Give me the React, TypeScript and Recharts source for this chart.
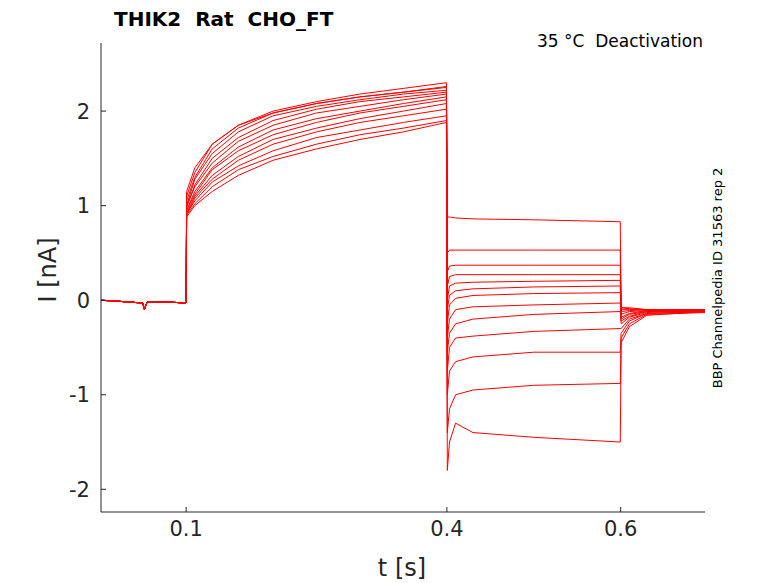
import React from "react";
import { LineChart, Line, XAxis, YAxis } from "recharts";

const baseTimes = [0, 0.02, 0.05, 0.052, 0.055, 0.08, 0.0995, 0.1];
const baseVals = [0.0, -0.01, -0.03, -0.1, -0.02, -0.02, -0.03, -0.02];
const actTimes = [0.1005, 0.11, 0.13, 0.16, 0.2, 0.25, 0.3, 0.35, 0.3995];
const deactTimes = [0.4005, 0.403, 0.41, 0.43, 0.5, 0.5995];
const tailTimes = [0.6005, 0.61, 0.63, 0.7];

const act = [
  [1.1, 1.35, 1.65, 1.85, 2.0, 2.1, 2.18, 2.24, 2.3],
  [1.05, 1.3, 1.6, 1.82, 1.98, 2.08, 2.15, 2.2, 2.26],
  [1.15, 1.4, 1.65, 1.85, 1.98, 2.08, 2.15, 2.2, 2.25],
  [1.0, 1.28, 1.55, 1.78, 1.95, 2.05, 2.12, 2.18, 2.22],
  [0.98, 1.22, 1.5, 1.72, 1.9, 2.02, 2.1, 2.15, 2.2],
  [1.0, 1.2, 1.45, 1.68, 1.85, 1.98, 2.05, 2.12, 2.18],
  [0.95, 1.15, 1.4, 1.62, 1.8, 1.92, 2.0, 2.08, 2.15],
  [0.95, 1.12, 1.38, 1.58, 1.75, 1.88, 1.98, 2.05, 2.12],
  [0.92, 1.1, 1.32, 1.52, 1.7, 1.82, 1.92, 2.0, 2.08],
  [0.9, 1.08, 1.28, 1.48, 1.65, 1.78, 1.88, 1.95, 2.02],
  [0.92, 1.05, 1.25, 1.42, 1.58, 1.72, 1.8, 1.88, 1.95],
  [0.9, 1.02, 1.2, 1.38, 1.52, 1.65, 1.75, 1.82, 1.9],
  [0.88, 1.0, 1.15, 1.32, 1.48, 1.6, 1.7, 1.78, 1.88],
];
const deact = [
  [0.88, 0.88, 0.87, 0.86, 0.85, 0.83],
  [0.5, 0.53, 0.53, 0.53, 0.53, 0.53],
  [0.3, 0.36, 0.37, 0.37, 0.37, 0.37],
  [0.15, 0.25, 0.27, 0.27, 0.27, 0.27],
  [0.0, 0.15, 0.18, 0.19, 0.2, 0.21],
  [-0.1, 0.05, 0.1, 0.12, 0.14, 0.15],
  [-0.25, -0.05, 0.02, 0.05, 0.07, 0.08],
  [-0.4, -0.2, -0.1, -0.07, -0.05, -0.03],
  [-0.55, -0.35, -0.25, -0.2, -0.15, -0.12],
  [-0.75, -0.5, -0.4, -0.38, -0.33, -0.3],
  [-1.0, -0.75, -0.65, -0.6, -0.55, -0.55],
  [-1.4, -1.15, -1.0, -0.95, -0.9, -0.88],
  [-1.8, -1.5, -1.3, -1.4, -1.45, -1.5],
];
const tail = [
  [-0.08, -0.08, -0.1, -0.1],
  [-0.08, -0.09, -0.1, -0.1],
  [-0.1, -0.1, -0.1, -0.11],
  [-0.12, -0.11, -0.1, -0.1],
  [-0.15, -0.12, -0.11, -0.1],
  [-0.18, -0.14, -0.11, -0.11],
  [-0.2, -0.15, -0.12, -0.1],
  [-0.22, -0.17, -0.12, -0.12],
  [-0.25, -0.18, -0.13, -0.11],
  [-0.3, -0.2, -0.14, -0.12],
  [-0.35, -0.22, -0.14, -0.12],
  [-0.4, -0.25, -0.15, -0.13],
  [-0.45, -0.28, -0.16, -0.12],
];
const xTicks = [0.1, 0.4, 0.6];
const yTicks = [-2, -1, 0, 1, 2];

const times = [...baseTimes, ...actTimes, ...deactTimes, ...tailTimes];
const data = times.map((t, i) => {
  const row: Record<string, number> = { t };
  for (let k = 0; k < act.length; k++) {
    const vals = [...baseVals, ...act[k], ...deact[k], ...tail[k]];
    row["s" + k] = vals[i];
  }
  return row;
});

const font = "'DejaVu Sans', sans-serif";
const tickStyle = { fontSize: 21, fill: "#262626", fontFamily: font };

export default function App() {
  return (
    <div style={{ position: "absolute", left: 0, top: 0, width: 778, height: 583, background: "#fff" }}>
      <LineChart width={778} height={583} data={data} margin={{ top: 43, right: 73, bottom: 0, left: 0 }}>
        <XAxis
          dataKey="t"
          type="number"
          domain={[0.002, 0.697]}
          ticks={xTicks}
          allowDataOverflow
          height={71}
          stroke="#262626"
          tickSize={-5}
          tickMargin={14}
          tick={tickStyle}
        />
        <YAxis
          type="number"
          domain={[-2.24, 2.72]}
          ticks={yTicks}
          allowDataOverflow
          width={101}
          stroke="#262626"
          tickSize={-5}
          tickMargin={16}
          tick={tickStyle}
        />
        {act.map((_, k) => (
          <Line
            key={k}
            dataKey={"s" + k}
            stroke="#ff0000"
            strokeWidth={1}
            dot={false}
            type="linear"
            isAnimationActive={false}
          />
        ))}
      </LineChart>
      <svg width={778} height={583} style={{ position: "absolute", left: 0, top: 0, pointerEvents: "none", whiteSpace: "pre" }}>
        <text x={114} y={26} fontSize={20} fontWeight="bold" fontFamily={font} fill="#000" xmlSpace="preserve">THIK2  Rat  CHO_FT</text>
        <text x={703} y={47} fontSize={17} textAnchor="end" fontFamily={font} fill="#000" xmlSpace="preserve">35 °C  Deactivation</text>
        <text x={402} y={576} fontSize={24} textAnchor="middle" fontFamily={font} fill="#262626">t [s]</text>
        <text transform="translate(56,270) rotate(-90)" fontSize={24} textAnchor="middle" fontFamily={font} fill="#262626">I [nA]</text>
        <text transform="translate(722,278) rotate(-90)" fontSize={13} textAnchor="middle" fontFamily={font} fill="#000">BBP Channelpedia ID 31563 rep 2</text>
      </svg>
    </div>
  );
}
